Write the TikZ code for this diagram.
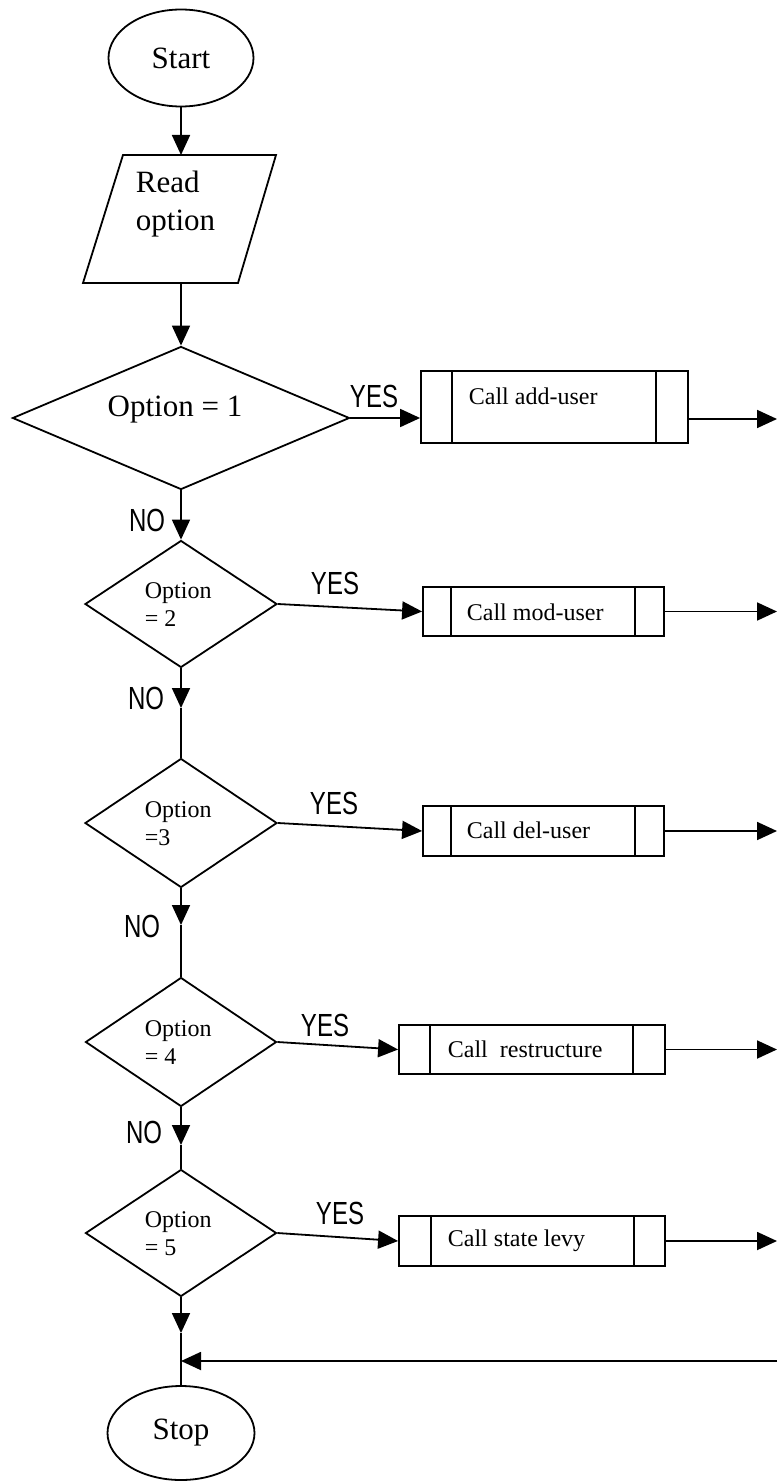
\documentclass[tikz,border=0pt]{standalone}
\usepackage{fontspec}
\usepackage{graphicx}
\setmainfont{Liberation Serif}
\newfontfamily\handfont{Liberation Sans}
\usetikzlibrary{arrows.meta,shapes.geometric}
\begin{document}
\begin{tikzpicture}[x=1pt,y=-1pt,
  line width=1.8pt,
  arr/.style={-{Triangle[length=20pt,width=18pt]}},
  term/.style={ellipse,draw,inner sep=0pt,font=\fontsize{31}{36}\selectfont},
  decision/.style={diamond,draw,inner sep=0pt},
  pbox/.style={rectangle,draw,inner sep=0pt},
  bigtxt/.style={font=\fontsize{31}{38}\selectfont,inner sep=0pt},
  smalltxt/.style={font=\fontsize{24}{28}\selectfont,inner sep=0pt,align=left,anchor=west},
  boxtxt/.style={font=\fontsize{24}{28}\selectfont,inner sep=0pt,anchor=west},
  hand/.style={font=\handfont\fontsize{32}{32}\selectfont,inner sep=0pt},
]
\useasboundingbox (0,0) rectangle (777,1482);

% terminals and input
\node[term,minimum width=145pt,minimum height=97pt] (start) at (181,58) {Start};
\draw (123,155) -- (276,155) -- (238,283) -- (83,283) -- cycle;
\node[bigtxt,align=left,anchor=west] (read) at (135,204) {Read\\option};
\coordinate (readin) at (181,155);
\coordinate (readout) at (181,283);
\node[term,minimum width=147pt,minimum height=94pt] (stop) at (181,1433) {Stop};

% decisions
\node[decision,minimum width=337pt,minimum height=143pt] (d1) at (181,418) {};
\node[bigtxt] (q1) at (175,410) {Option = 1};
\node[decision,minimum width=192pt,minimum height=127pt] (d2) at (181,604) {};
\node[smalltxt] (q2) at (144,605) {Option\\= 2};
\node[decision,minimum width=192pt,minimum height=129pt] (d3) at (181,823) {};
\node[smalltxt] (q3) at (144,824) {Option\\=3};
\node[decision,minimum width=191pt,minimum height=129pt] (d4) at (181,1042) {};
\node[smalltxt] (q4) at (144,1043) {Option\\= 4};
\node[decision,minimum width=191pt,minimum height=127pt] (d5) at (181,1233) {};
\node[smalltxt] (q5) at (144,1234) {Option\\= 5};

% predefined processes
\node[pbox,minimum width=267pt,minimum height=72pt] (b1) at (554.5,407) {};
\draw ([xshift=32pt]b1.north west) -- ([xshift=32pt]b1.south west);
\draw ([xshift=-33pt]b1.north east) -- ([xshift=-33pt]b1.south east);
\node[boxtxt] (c1) at (468,396) {Call add-user};

\node[pbox,minimum width=241pt,minimum height=49pt] (b2) at (543.5,611.5) {};
\draw ([xshift=29pt]b2.north west) -- ([xshift=29pt]b2.south west);
\draw ([xshift=-30pt]b2.north east) -- ([xshift=-30pt]b2.south east);
\node[boxtxt] (c2) at (466,612) {Call mod-user};

\node[pbox,minimum width=241pt,minimum height=50pt] (b3) at (543.5,831) {};
\draw ([xshift=29pt]b3.north west) -- ([xshift=29pt]b3.south west);
\draw ([xshift=-30pt]b3.north east) -- ([xshift=-30pt]b3.south east);
\node[boxtxt] (c3) at (466,830) {Call del-user};

\node[pbox,minimum width=266pt,minimum height=49pt] (b4) at (532,1049.5) {};
\draw ([xshift=32pt]b4.north west) -- ([xshift=32pt]b4.south west);
\draw ([xshift=-33pt]b4.north east) -- ([xshift=-33pt]b4.south east);
\node[boxtxt] (c4) at (447,1049) {Call~~restructure};

\node[pbox,minimum width=266pt,minimum height=50pt] (b5) at (532,1241) {};
\draw ([xshift=33pt]b5.north west) -- ([xshift=33pt]b5.south west);
\draw ([xshift=-32pt]b5.north east) -- ([xshift=-32pt]b5.south east);
\node[boxtxt] (c5) at (447,1241) {Call state levy};

% helper points on the main line and at the right edge
\coordinate (m2) at (181,708);
\coordinate (m3) at (181,925);
\coordinate (m4) at (181,1145);
\coordinate (m5) at (181,1333);
\coordinate (join) at (181,1361);
\coordinate (o1) at (777,419);
\coordinate (o2) at (777,611.5);
\coordinate (o3) at (777,831);
\coordinate (o4) at (777,1049.5);
\coordinate (o5) at (777,1241);
\coordinate (back) at (777,1361);

% main flow
\draw[arr] (start.south) -- (readin);
\draw[arr] (readout) -- (d1.north);
\draw[arr] (d1.south) -- (d2.north);
\draw[arr] (d2.south) -- (m2);
\draw (m2) -- (d3.north);
\draw[arr] (d3.south) -- (m3);
\draw (m3) -- (d4.north);
\draw[arr] (d4.south) -- (m4);
\draw (m4) -- (d5.north);
\draw[arr] (d5.south) -- (m5);
\draw (m5) -- (stop.north);

% yes branches
\draw[arr] (d1.east) -- (d1.east -| b1.west);
\draw[arr] (d2.east) -- (b2.west);
\draw[arr] (d3.east) -- (b3.west);
\draw[arr] (d4.east) -- (b4.west);
\draw[arr] (d5.east) -- (b5.west);
\draw[arr] (b1.east |- o1) -- (o1);
\draw[arr] (b2.east) -- (o2);
\draw[arr] (b3.east) -- (o3);
\draw[arr] (b4.east) -- (o4);
\draw[arr] (b5.east) -- (o5);
\draw[arr] (back) -- (join);

% branch labels
\node[hand] (y1) at (374,396) {\scalebox{0.75}[1]{YES}};
\node[hand] (y2) at (335,583) {\scalebox{0.75}[1]{YES}};
\node[hand] (y3) at (334,803) {\scalebox{0.75}[1]{YES}};
\node[hand] (y4) at (325,1025) {\scalebox{0.75}[1]{YES}};
\node[hand] (y5) at (340,1213) {\scalebox{0.75}[1]{YES}};
\node[hand] (n1) at (147,520) {\scalebox{0.75}[1]{NO}};
\node[hand] (n2) at (146,698) {\scalebox{0.75}[1]{NO}};
\node[hand] (n3) at (142,926) {\scalebox{0.75}[1]{NO}};
\node[hand] (n4) at (144,1132) {\scalebox{0.75}[1]{NO}};
\end{tikzpicture}
\end{document}
